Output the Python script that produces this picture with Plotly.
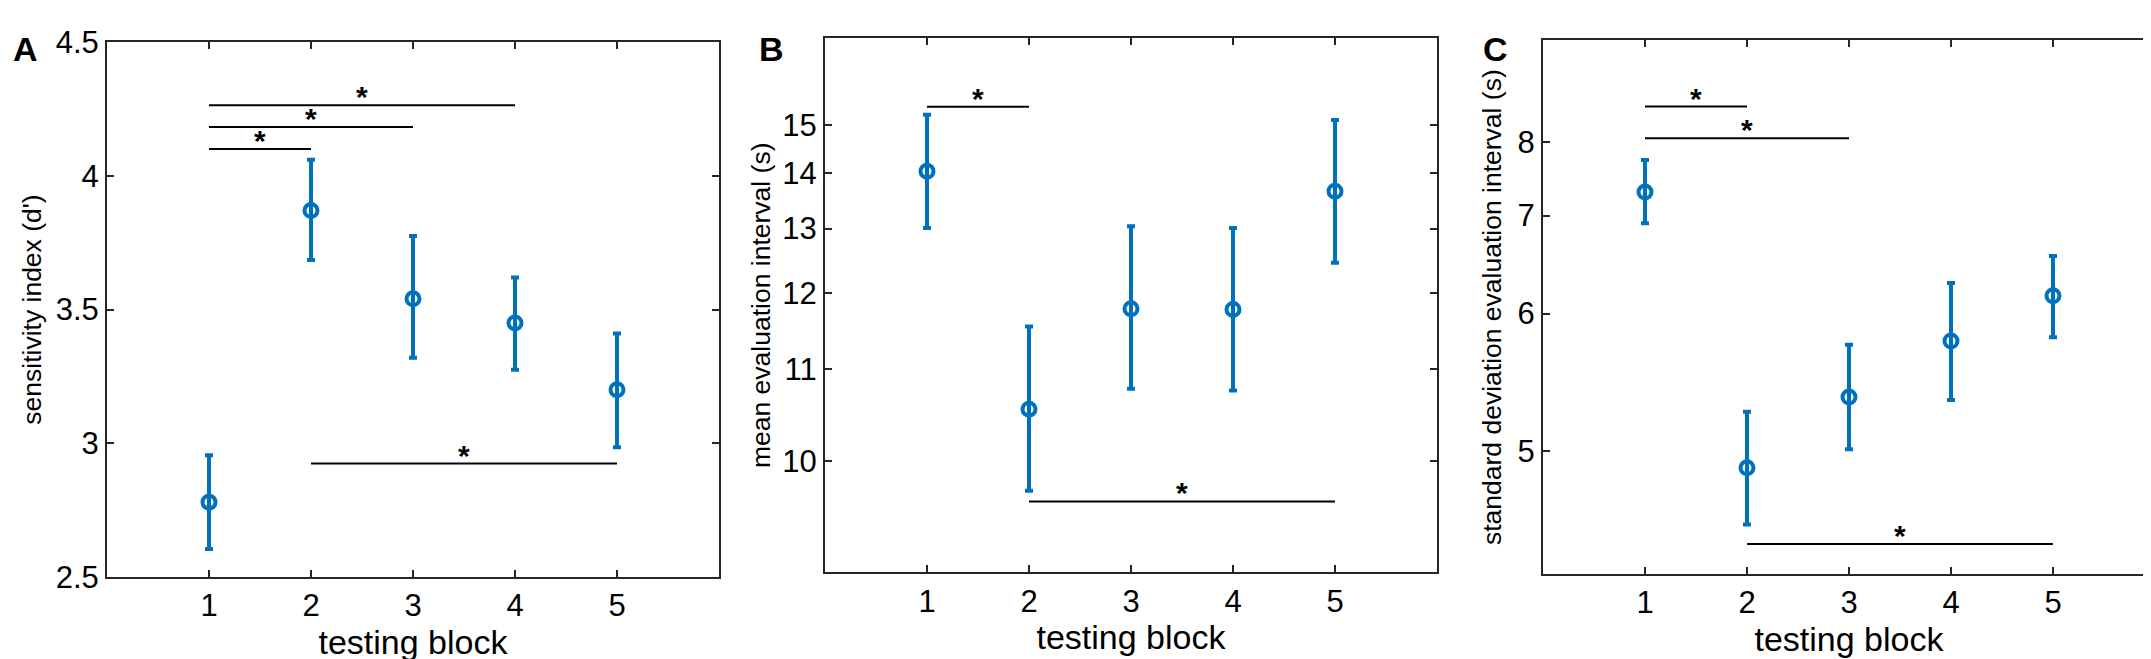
"""Three-panel figure: d', mean and SD of evaluation interval per testing block."""
import plotly.graph_objects as go

# ── Data ──────────────────────────────────────────────────────────────────────
BLOCKS = [1, 2, 3, 4, 5]
X_TICKS = [1, 2, 3, 4, 5]

# A: sensitivity index (d')
DPRIME_MEAN = [2.78, 3.87, 3.54, 3.45, 3.20]
DPRIME_LO   = [2.605, 3.685, 3.32, 3.275, 2.985]
DPRIME_HI   = [2.955, 4.06, 3.775, 3.62, 3.41]

# B: mean evaluation interval (s)
MEAN_INT    = [14.04, 10.54, 11.78, 11.77, 13.66]
MEAN_INT_LO = [13.01, 9.71, 10.77, 10.75, 12.45]
MEAN_INT_HI = [15.24, 11.54, 13.04, 13.01, 15.12]

# C: standard deviation evaluation interval (s)
SD_INT    = [7.29, 4.90, 5.35, 5.77, 6.16]
SD_INT_LO = [6.91, 4.59, 5.01, 5.33, 5.80]
SD_INT_HI = [7.73, 5.25, 5.74, 6.28, 6.55]

# significance brackets: (from block, to block, height)
SIG_A = [(1, 2, 4.10), (1, 3, 4.182), (1, 4, 4.264), (2, 5, 2.924)]
SIG_B = [(1, 2, 15.43), (2, 5, 9.61)]
SIG_C = [(1, 2, 8.59), (1, 3, 8.056), (2, 5, 4.493)]

Y_TICKS_A = [2.5, 3, 3.5, 4, 4.5]
Y_TICKS_B = [10, 11, 12, 13, 14, 15]
Y_TICKS_C = [5, 6, 7, 8]

# ── Style ─────────────────────────────────────────────────────────────────────
W, H = 2151, 659
BLUE = '#0072BD'
FRAME = '#262626'
FONT = 'Arial, Liberation Sans, sans-serif'


def recip(v):
    # B and C are drawn on a reciprocal (rate) axis, labelled in seconds
    return -1.0 / v


def ident(v):
    return v


def px_x(x0, x1):
    return [x0 / W, x1 / W]


def px_y(top, bottom):
    return [(H - bottom) / H, (H - top) / H]


panels = [
    dict(key='', mean=DPRIME_MEAN, lo=DPRIME_LO, hi=DPRIME_HI, sig=SIG_A,
         f=ident, yticks=Y_TICKS_A, yrange=[2.5, 4.5],
         xdom=px_x(99, 711), ydom=px_y(18, 583),
         ytitle="sensitivity index (d')", standoff=6,
         letter='A', lx=3),
    dict(key='2', mean=MEAN_INT, lo=MEAN_INT_LO, hi=MEAN_INT_HI, sig=SIG_B,
         f=recip, yticks=Y_TICKS_B, yrange=[-0.1111, -0.0580],
         xdom=px_x(817, 1429), ydom=px_y(14, 578),
         ytitle='mean evaluation interval (s)', standoff=4,
         letter='B', lx=749),
    dict(key='3', mean=SD_INT, lo=SD_INT_LO, hi=SD_INT_HI, sig=SIG_C,
         f=recip, yticks=Y_TICKS_C, yrange=[-0.2299, -0.1003],
         xdom=px_x(1535, 2147), ydom=px_y(16, 580),
         ytitle='standard deviation evaluation interval (s)', standoff=8,
         letter='C', lx=1473),
]

fig = go.Figure()
layout = dict(
    width=W, height=H,
    margin=dict(l=0, r=0, t=0, b=0),
    paper_bgcolor='white', plot_bgcolor='white',
    showlegend=False,
    font=dict(family=FONT, color='black'),
    annotations=[],
)

for p in panels:
    k = p['key']
    f = p['f']
    xa, ya = 'x' + k, 'y' + k
    m = [f(v) for v in p['mean']]
    up = [f(h) - f(v) for h, v in zip(p['hi'], p['mean'])]
    dn = [f(v) - f(l) for l, v in zip(p['lo'], p['mean'])]

    # significance brackets
    for x0, x1, yv in p['sig']:
        fig.add_trace(go.Scatter(
            x=[x0, x1], y=[f(yv), f(yv)], mode='lines',
            line=dict(color='black', width=2),
            xaxis=xa, yaxis=ya, hoverinfo='skip',
        ))
        layout['annotations'].append(dict(
            x=(x0 + x1) / 2, y=f(yv), xref=xa, yref=ya,
            text='<b>*</b>', showarrow=False, yanchor='bottom', yshift=-10,
            font=dict(size=30, color='black', family=FONT),
        ))

    fig.add_trace(go.Scatter(
        x=BLOCKS, y=m, mode='markers',
        marker=dict(symbol='circle-open', size=13, color=BLUE,
                    line=dict(width=4, color=BLUE)),
        error_y=dict(type='data', symmetric=False, array=up, arrayminus=dn,
                     color=BLUE, thickness=4, width=4),
        xaxis=xa, yaxis=ya,
    ))

    axis_common = dict(
        showline=True, linecolor=FRAME, linewidth=2, mirror='allticks',
        ticks='inside', ticklen=7, tickwidth=1.5, tickcolor=FRAME,
        showgrid=False, zeroline=False,
        tickfont=dict(size=31, family=FONT, color='black'),
    )
    layout['xaxis' + k] = dict(
        axis_common, domain=p['xdom'], range=[0, 6],
        tickvals=X_TICKS, ticktext=[str(t) for t in X_TICKS],
        anchor=ya,
        title=dict(text='testing block', standoff=5,
                   font=dict(size=34, family=FONT, color='black')),
    )
    layout['yaxis' + k] = dict(
        axis_common, domain=p['ydom'], range=p['yrange'],
        tickvals=[f(t) for t in p['yticks']],
        ticktext=[f'{t:g}' for t in p['yticks']],
        anchor=xa,
        title=dict(text=p['ytitle'], standoff=p['standoff'],
                   font=dict(size=26.5, family=FONT, color='black')),
    )
    layout['annotations'].append(dict(
        x=p['lx'] / W, y=1 - 3 / H, xref='paper', yref='paper',
        xanchor='left', yanchor='top', text='<b>' + p['letter'] + '</b>',
        showarrow=False, font=dict(size=34, family=FONT, color='black'),
    ))

fig.update_layout(**layout)
fig.write_html('out.html')
